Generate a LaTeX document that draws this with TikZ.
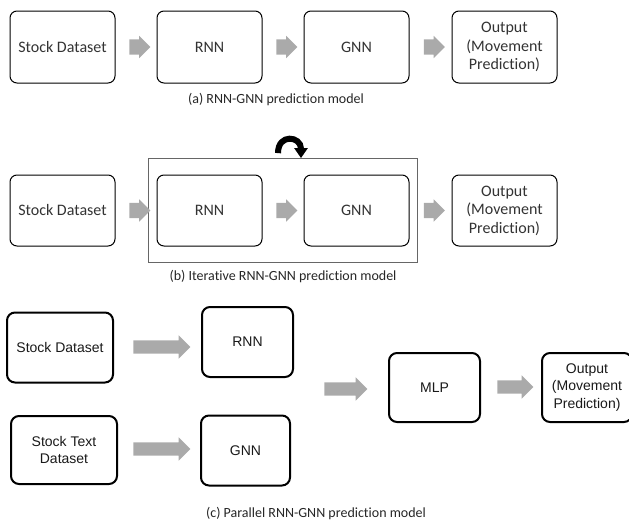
\documentclass[tikz,border=0pt]{standalone}
\usepackage{fontspec}
\setmainfont{Carlito}[Ligatures=NoCommon]
\newfontfamily\arialfont{Liberation Sans}
\usetikzlibrary{positioning,arrows.meta,shapes.arrows,fit,calc}
\definecolor{arrgray}{RGB}{170,170,170}

\begin{document}
\begin{tikzpicture}[
    x=1pt, y=-1pt,
    box/.style={draw, rounded corners=7pt, line width=1pt, minimum width=105pt, minimum height=72pt, align=center, text=black!80, font=\fontsize{16}{18.5}\selectfont, inner sep=2pt},
    boldbox/.style={draw, rounded corners=8pt, line width=2pt, minimum height=70pt, align=center, text=black!90, font=\arialfont\fontsize{14}{17.5}\selectfont, inner sep=1pt},
    blk/.style={single arrow, fill=arrgray, draw=none, inner xsep=0pt, inner ysep=7.5pt, minimum width=22pt, single arrow head extend=3.5pt, single arrow head indent=0pt},
    blkc/.style={blk, inner ysep=6.5pt, minimum width=23pt, single arrow head extend=5pt},
    capt/.style={font=\fontsize{14}{16}\selectfont, text=black!85},
    iterframe/.style={draw=black!60, line width=0.8pt, inner xsep=8pt, inner ysep=16pt},
    iterarr/.style={line width=6pt, -{Triangle[length=10pt,width=13pt]}},
]
\useasboundingbox (0,0) rectangle (629,522);

% (a) RNN-GNN
\node[box] (sda) at (62.5,47) {Stock Dataset};
\node[box, right=41pt of sda] (rnna) {RNN};
\node[box, right=41pt of rnna] (gnna) {GNN};
\node[box, right=42pt of gnna] (outa) {Output\\(Movement\\Prediction)};

\node[blk, minimum height=21pt] (arra1) at ($(sda.east)!0.5!(rnna.west)$) {};
\node[blk, minimum height=21pt] (arra2) at ($(rnna.east)!0.5!(gnna.west)$) {};
\node[blk, minimum height=21pt] (arra3) at ($(gnna.east)!0.5!(outa.west)$) {};

\node[capt] (capa) at (276,100) {(a) RNN-GNN prediction model};

% (b) Iterative RNN-GNN
\node[box, minimum height=71pt] (sdb) at (62.5,210.5) {Stock Dataset};
\node[box, minimum height=71pt, right=41pt of sdb] (rnnb) {RNN};
\node[box, minimum height=71pt, right=41pt of rnnb] (gnnb) {GNN};
\node[box, minimum height=71pt, right=42pt of gnnb] (outb) {Output\\(Movement\\Prediction)};

\node[iterframe, fit=(rnnb)(gnnb)] (loopbox) {};
\draw[iterarr] ([xshift=-5pt,yshift=5pt]loopbox.north) .. controls +(0,-20) and +(0,-22) .. ([xshift=18pt]loopbox.north);

\node[blk, minimum height=21pt] (arrb1) at ($(sdb.east)!0.5!(rnnb.west)$) {};
\node[blk, minimum height=21pt] (arrb2) at ($(rnnb.east)!0.5!(gnnb.west)$) {};
\node[blk, minimum height=21pt] (arrb3) at ($(gnnb.east)!0.5!(outb.west)$) {};

\node[capt] (capb) at (283,277) {(b) Iterative RNN-GNN prediction model};

% (c) Parallel RNN-GNN
\node[boldbox, minimum width=106pt] (sdc) at (60,347.5) {Stock Dataset};
\node[boldbox, minimum width=91pt] (rnnc) at (247.5,342) {RNN};
\node[boldbox, minimum width=106pt, minimum height=68pt] (sdtc) at (64,450) {Stock Text\\Dataset};
\node[boldbox, minimum width=89pt] (gnnc) at (245.5,450.5) {GNN};
\node[boldbox, minimum width=91pt, minimum height=69pt] (mlpc) at (434.5,387.5) {MLP};
\node[boldbox, minimum width=90pt, minimum height=69pt] (outc) at (587,387.5) {Output\\(Movement\\Prediction)};

\node[blkc, minimum height=57pt] (arrc1) at (158.5,347) {};
\node[blkc, minimum height=57pt] (arrc2) at (158.5,449) {};
\node[blkc, minimum height=43pt] (arrc3) at (342.5,389) {};
\node[blkc, minimum height=36pt] (arrc4) at (512,387) {};

\node[capt] (capc) at (316,514) {(c) Parallel RNN-GNN prediction model};

\end{tikzpicture}
\end{document}
